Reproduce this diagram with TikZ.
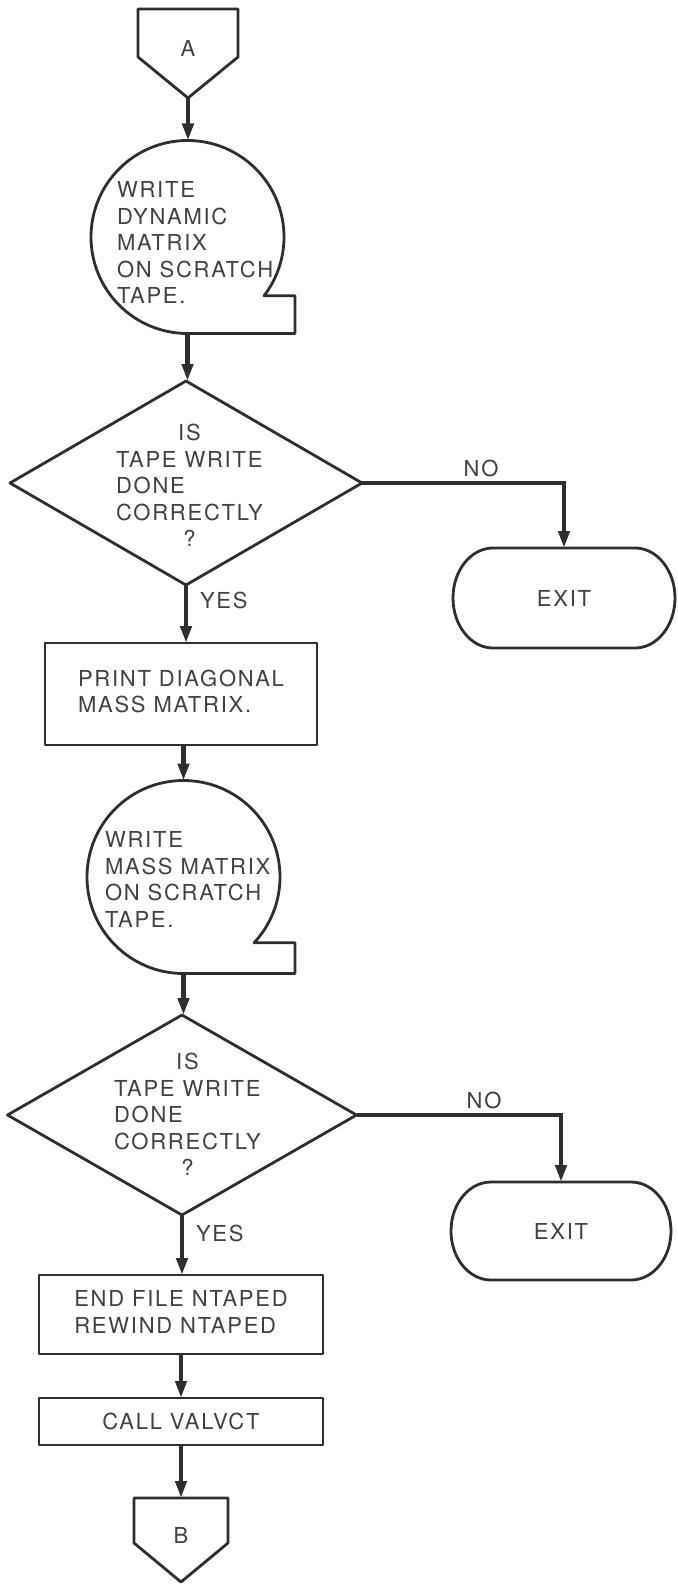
\documentclass[tikz,border=0pt]{standalone}
\usepackage{fontspec}
\setmainfont{TeX Gyre Heros}[LetterSpace=8]
\usetikzlibrary{arrows.meta,shapes.geometric,calc}
\definecolor{ink}{HTML}{2E2E2E}
\definecolor{txt}{HTML}{3E433E}
\begin{document}
\begin{tikzpicture}[x=1pt,y=1pt,
  outline/.style={draw=ink, line width=2.8pt, line join=round},
  flow/.style={draw=ink, line width=4.5pt, -{Triangle[length=17pt,width=11pt]}},
  lbl/.style={text=txt, font=\fontsize{22}{26.5}\selectfont, inner sep=0pt, outer sep=0pt},
  anchorbox/.style={inner sep=0pt, outer sep=0pt},
  tapering/.style={circle, anchorbox, minimum size=193pt},
  decision/.style={outline, diamond, anchorbox},
  procbox/.style={outline, lbl},
]
\useasboundingbox (0,-1584) rectangle (677,0);
\fill[white] (0,-1584) rectangle (677,0);

% ---- off-page connector A ----
\draw[outline] (138,-9) -- (238,-9) -- (238,-57) -- (188,-98) -- (138,-57) -- cycle;
\node[lbl] (A) at (188,-48) {A};
\coordinate (Atip) at (188,-98);

% ---- tape symbol 1 ----
\node[tapering] (t1) at (187.5,-237) {};
\draw[outline] (t1.south) arc[start angle=270, end angle=-37.5, radius=96.5pt]
  -- (295,-295.7) -- (295,-333.5) -- cycle;
\node[lbl, anchor=north west] (t1txt) at (117,-179.3)
  {\begin{tabular}{@{}l@{}}WRITE\\ DYNAMIC\\ MATRIX\\ ON SCRATCH\\ TAPE.\end{tabular}};

% ---- decision 1 ----
\node[decision, minimum width=352pt, minimum height=204pt] (d1) at (186,-483) {};
\node[lbl, anchor=north west] (q1) at (116,-422.3)
  {\begin{tabular}{@{}l@{}}\multicolumn{1}{@{}c@{}}{IS}\\ TAPE WRITE\\ DONE\\ CORRECTLY\\ \multicolumn{1}{@{}c@{}}{?}\end{tabular}};

% ---- exit 1 ----
\node[lbl, minimum width=222pt, minimum height=100pt] (e1) at (564,-598) {EXIT};
\draw[outline] ([xshift=40pt]e1.north west) -- ([xshift=-40pt]e1.north east)
  arc[start angle=90, end angle=-90, x radius=40pt, y radius=50pt]
  -- ([xshift=40pt]e1.south west)
  arc[start angle=270, end angle=90, x radius=40pt, y radius=50pt] -- cycle;
\node[lbl] (no1) at (481,-468) {NO};
\node[lbl, anchor=west] (yes1) at (200,-600) {YES};

% ---- print box ----
\node[procbox, minimum width=272pt, minimum height=102pt] (r1) at (181,-694)
  {\begin{tabular}{@{}l@{}}PRINT DIAGONAL\\ MASS MATRIX.\end{tabular}};

% ---- tape symbol 2 ----
\node[tapering] (t2) at (183.5,-877) {};
\draw[outline] (t2.south) arc[start angle=270, end angle=-43, radius=96.5pt]
  -- (295,-942.8) -- (295,-973.5) -- cycle;
\node[lbl, anchor=north west] (t2txt) at (105,-829.3)
  {\begin{tabular}{@{}l@{}}WRITE\\ MASS MATRIX\\ ON SCRATCH\\ TAPE.\end{tabular}};

% ---- decision 2 ----
\node[decision, minimum width=349pt, minimum height=200pt] (d2) at (182,-1115) {};
\node[lbl, anchor=north west] (q2) at (114,-1051.3)
  {\begin{tabular}{@{}l@{}}\multicolumn{1}{@{}c@{}}{IS}\\ TAPE WRITE\\ DONE\\ CORRECTLY\\ \multicolumn{1}{@{}c@{}}{?}\end{tabular}};

% ---- exit 2 ----
\node[lbl, minimum width=220pt, minimum height=98pt] (e2) at (561,-1231) {EXIT};
\draw[outline] ([xshift=40pt]e2.north west) -- ([xshift=-40pt]e2.north east)
  arc[start angle=90, end angle=-90, x radius=40pt, y radius=49pt]
  -- ([xshift=40pt]e2.south west)
  arc[start angle=270, end angle=90, x radius=40pt, y radius=49pt] -- cycle;
\node[lbl] (no2) at (484,-1100) {NO};
\node[lbl, anchor=west] (yes2) at (196,-1233) {YES};

% ---- end file / call boxes ----
\node[procbox, minimum width=284pt, minimum height=79pt] (r2) at (181,-1314.5)
  {\begin{tabular}{@{}l@{}}END FILE NTAPED\\ REWIND NTAPED\end{tabular}};
\node[procbox, minimum width=284pt, minimum height=47pt] (r3) at (181,-1421.5) {CALL VALVCT};

% ---- off-page connector B ----
\draw[outline] (134,-1498) -- (228,-1498) -- (228,-1543) -- (181,-1582) -- (134,-1543) -- cycle;
\node[lbl] (B) at (181,-1535) {B};
\coordinate (Btop) at (181,-1498);

% ---- flow lines ----
\draw[flow] (Atip) -- (Atip |- t1.north);
\draw[flow] (t1.south) -- (t1.south |- d1.north);
\draw[flow] (d1.east) -| (e1.north);
\draw[flow] (d1.south) -- (d1.south |- r1.north);
\draw[flow] (t2.north |- r1.south) -- (t2.north);
\draw[flow] (t2.south) -- (t2.south |- d2.north);
\draw[flow] (d2.east) -| (e2.north);
\draw[flow] (d2.south) -- (d2.south |- r2.north);
\draw[flow] (r2.south) -- (r3.north);
\draw[flow] (r3.south) -- (Btop);
\end{tikzpicture}
\end{document}
